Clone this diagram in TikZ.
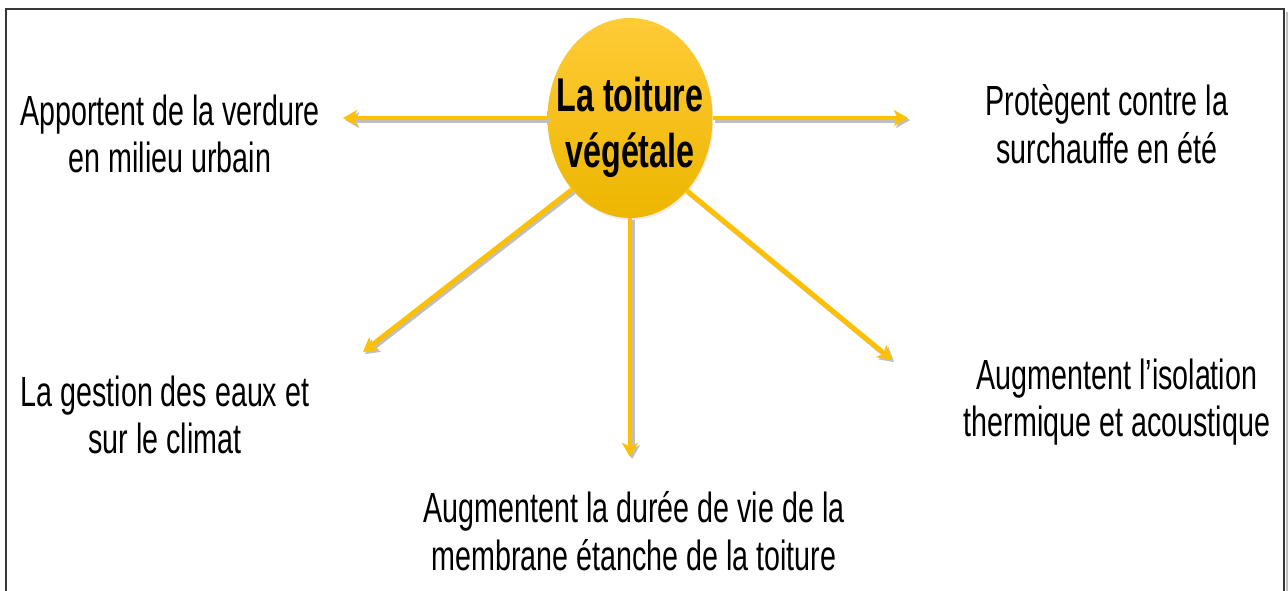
\documentclass[tikz,border=0pt]{standalone}
\usepackage{fontspec}
\setmainfont{Liberation Sans}[FakeStretch=0.68]
\usetikzlibrary{shapes.geometric, arrows.meta, shadows}
\definecolor{gold}{RGB}{255,192,0}
\definecolor{goldtop}{RGB}{255,203,55}
\definecolor{goldbot}{RGB}{236,182,0}
\definecolor{framegray}{RGB}{55,55,55}

\begin{document}
\begin{tikzpicture}[x=0.02cm, y=-0.02cm,
      hub/.style={ellipse, inner sep=0pt, minimum width=3.3cm, minimum height=4cm,
                  top color=goldtop, bottom color=goldbot,
                  drop shadow={opacity=0.15, shadow xshift=0.6pt, shadow yshift=-1.2pt}},
      hubtext/.style={align=center, inner sep=0pt,
                  font=\fontsize{27}{32}\selectfont\bfseries},
      info/.style={align=center, inner sep=0pt,
                  font=\fontsize{24}{27}\selectfont},
      arr/.style={-{Stealth[length=8pt, width=9pt, inset=2pt]}, draw=gold, line width=2.8pt,
                  preaction={draw=black!25, line width=2.8pt,
                             -{Stealth[length=8pt, width=9pt, inset=2pt]},
                             transform canvas={shift={(1.2pt,-1.2pt)}}}},
      frameline/.style={draw=framegray, line width=1pt},
      frameshade/.style={draw=black!25, line width=1.5pt}
    ]
    \useasboundingbox (0,0) rectangle (1288,591);
    \draw[frameshade] (1287,12) -- (1287,591);
    \draw[frameline]  (6,591) -- (6,9) -- (1284,9) -- (1284,591);

    \node[hub, label={[hubtext, yshift=-0.18cm]center:La toiture\\végétale}] (roof) at (630,118) {};

    \coordinate (tipW)  at (343,118);
    \coordinate (tipE)  at (908,118);
    \coordinate (tipSW) at (363,352);
    \coordinate (tipS)  at (630,457);
    \coordinate (tipSE) at (892,360);

    \node[info] (verdure)    at (170,134)  {Apportent de la verdure\\en milieu urbain};
    \node[info] (surchauffe) at (1107,124) {Protègent contre la\\surchauffe en été};
    \node[info] (gestion)    at (165,415)  {La gestion des eaux et\\sur le climat};
    \node[info] (isolation)  at (1117,402) {Augmentent l’isolation\\thermique et acoustique};
    \node[info] (duree)      at (634,531)  {Augmentent la durée de vie de la\\membrane étanche de la toiture};

    \draw[arr] (roof)      -- (tipW);
    \draw[arr] (roof)      -- (tipE);
    \draw[arr] (roof.231)  -- (tipSW);
    \draw[arr] (roof)      -- (tipS);
    \draw[arr] (roof.308)  -- (tipSE);
  \end{tikzpicture}
\end{document}
